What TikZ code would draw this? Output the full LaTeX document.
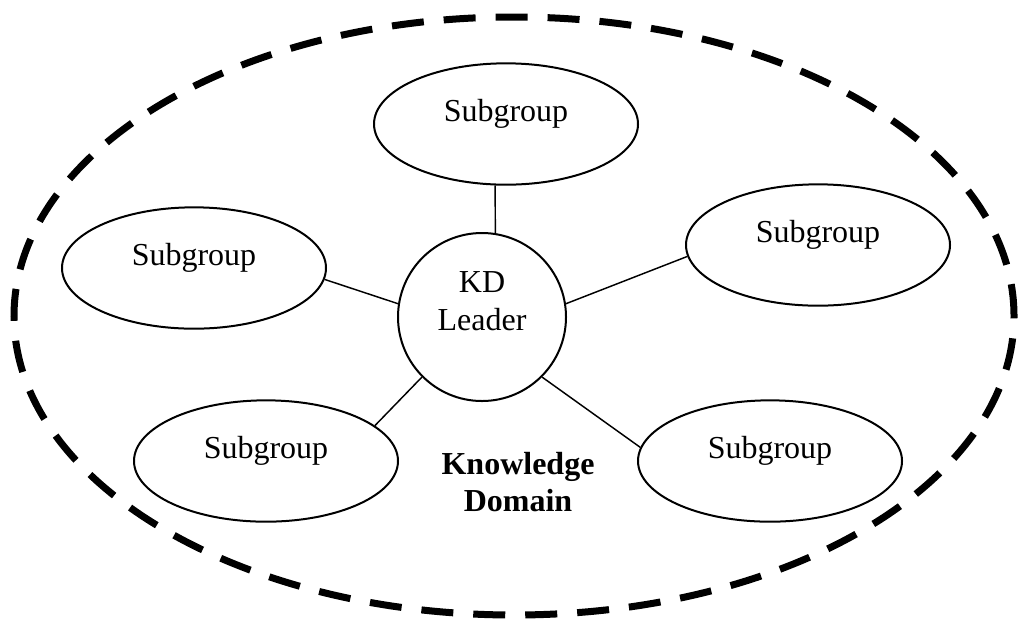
\documentclass[tikz,border=0pt]{standalone}
\usepackage{fontspec}
\setmainfont{Liberation Serif}
\usetikzlibrary{shapes.geometric}
\begin{document}
\begin{tikzpicture}[x=0.75pt,y=-0.75pt,
  domainline/.style={line width=5.25pt, dash pattern=on 24pt off 15pt},
  subgroup/.style={draw, ellipse, line width=1.5pt, minimum width=198pt,
    minimum height=91pt, inner sep=0pt, font=\fontsize{24}{28}\selectfont,
    text height=10pt, text depth=14.5pt},
  leader/.style={draw, circle, line width=1.5pt, minimum size=126pt, inner sep=0pt},
  leadertext/.style={align=center, inner sep=0pt, font=\fontsize{24}{28.5}\selectfont},
  domaintext/.style={align=center, inner sep=0pt, font=\bfseries\fontsize{24}{27.75}\selectfont},
  link/.style={line width=1.1pt}]
\useasboundingbox (0,0) rectangle (1019,619);

% knowledge domain boundary
\draw[domainline] (514,316) ellipse [x radius=375pt, y radius=224.25pt];

% leader and subgroups
\node[leader] (lead) at (482,317) {};
\node[leadertext] (leadtext) at (482,301.5) {KD\\Leader};
\node[subgroup] (sgT)  at (506,124) {Subgroup};
\node[subgroup] (sgL)  at (194,268) {Subgroup};
\node[subgroup] (sgR)  at (818,245) {Subgroup};
\node[subgroup] (sgBL) at (266,461) {Subgroup};
\node[subgroup] (sgBR) at (770,461) {Subgroup};

\node[domaintext] (domain) at (518,482.5) {Knowledge\\Domain};

% links from the leader to each subgroup
\draw[link] (lead.81)  -- (sgT.260);
\draw[link] (lead.171) -- (sgL.355);
\draw[link] (lead.9)   -- (sgR.185);
\draw[link] (lead.225) -- (sgBL.18);
\draw[link] (lead.315) -- (sgBR.174);
\end{tikzpicture}
\end{document}
